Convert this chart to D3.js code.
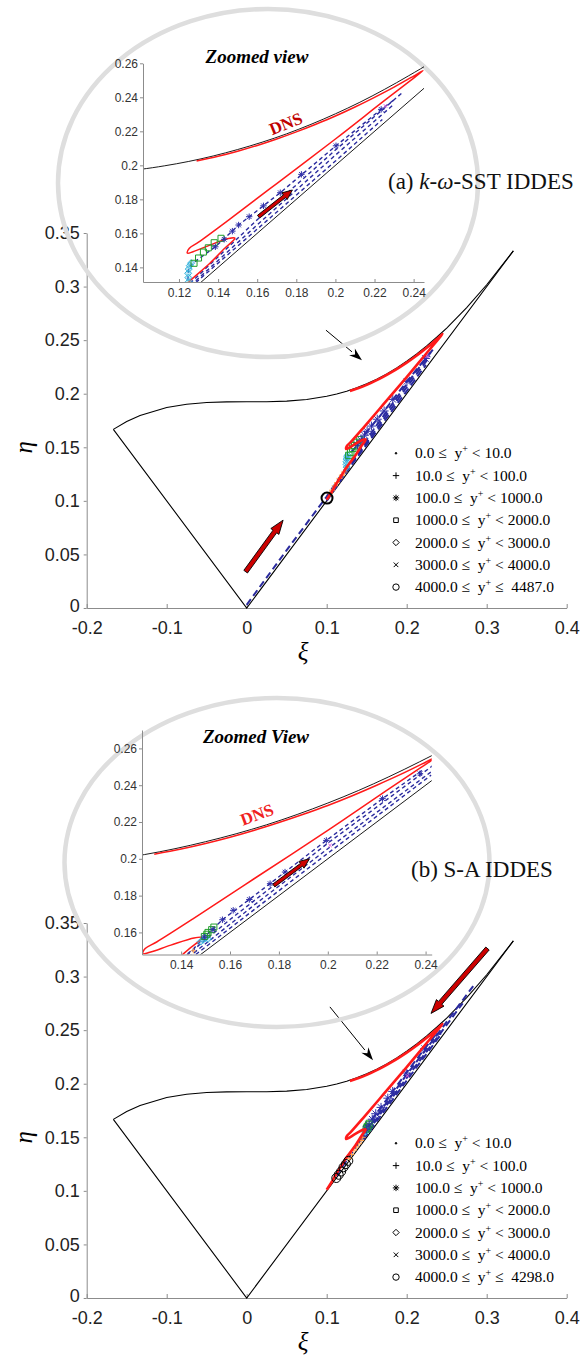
<!DOCTYPE html>
<html>
<head>
<meta charset="utf-8">
<script src="https://cdn.jsdelivr.net/npm/d3@7"></script>
<style>
  body { margin: 0; background: #fff; }
  text { white-space: pre; }
</style>
</head>
<body>
<svg id="fig" width="586" height="1356"></svg>
<script>
// ---- shared data (xi, eta) ----
const bndUpper = [[-0.1667,0.1667],[-0.15,0.1740],[-0.1333,0.1797],[-0.1,0.1872],[-0.075,0.1902],[-0.05,0.1918],
  [-0.025,0.1924],[0,0.1925],[0.025,0.1925],[0.05,0.1931],[0.075,0.1946],[0.1,0.1976],[0.1125,0.1997],[0.125,0.2023],
  [0.1375,0.2055],[0.15,0.2093],[0.1625,0.2136],[0.175,0.2185],[0.1875,0.2241],[0.2,0.2303],[0.2125,0.2371],
  [0.225,0.2446],[0.2375,0.2527],[0.25,0.2613],[0.275,0.2804],[0.3,0.3017],[0.3333,0.3333]];
const bndLower = [[-0.1667,0.1667],[0,0],[0.3333,0.3333]];

const dnsPath = [[0.100,0.101],[0.106,0.108],[0.112,0.116],[0.118,0.123],[0.122,0.128],[0.126,0.1325],
  [0.1358,0.1424],[0.1434,0.1512],[0.1476,0.1556],[0.1486,0.1572],[0.1453,0.1570],[0.1358,0.1531],
  [0.1272,0.1492],[0.1243,0.1484],[0.1253,0.1512],[0.1300,0.1548],[0.1450,0.1675],[0.1700,0.1893],
  [0.2000,0.2155],[0.2250,0.2380],[0.2380,0.2495],[0.2448,0.2557],[0.2400,0.2525],[0.2300,0.2460],
  [0.2200,0.2400],[0.2100,0.2343],[0.2000,0.2290],[0.1900,0.2242],[0.1800,0.2197],[0.1700,0.2155],
  [0.1600,0.2117],[0.1500,0.2083],[0.1400,0.2053],[0.1290,0.2025]];

const mainXTicks = [-0.2,-0.1,0,0.1,0.2,0.3,0.4];
const mainYTicks = [0,0.05,0.1,0.15,0.2,0.25,0.3,0.35];
const legendLo = ["0.0","10.0","100.0","1000.0","2000.0","3000.0","4000.0"];
const legendHiSST = ["10.0","100.0","1000.0","2000.0","3000.0","4000.0","4487.0"];
const legendHiSA = ["10.0","100.0","1000.0","2000.0","3000.0","4000.0","4298.0"];
const legendMarks = ["dot","plus","star","square","diamond","x","circle"];

// ---- (a) k-omega-SST IDDES ----
const sstLineA = [[0.000,0.003],[0.050,0.054],[0.100,0.104],[0.118,0.124],[0.1245,0.1315],[0.1250,0.1400],
  [0.1277,0.1430],[0.1386,0.1521],[0.1505,0.1649],[0.1718,0.1839],[0.2003,0.2115],[0.2234,0.2329],[0.2300,0.2385]];
const sstLineB = [[0.100,0.102],[0.126,0.131],[0.160,0.168],[0.200,0.209],[0.234,0.2425]];
const sstLineC = [[0.100,0.101],[0.128,0.1315],[0.160,0.165],[0.200,0.206],[0.229,0.235]];
const sstLineD = [[0.100,0.100],[0.130,0.1325],[0.160,0.1625],[0.200,0.2025],[0.224,0.227]];
const sstStars = [[0.1386,0.1521],[0.1431,0.1565],[0.1473,0.1613],[0.1505,0.1649],[0.1559,0.1698],
  [0.1632,0.1762],[0.1718,0.1839],[0.1826,0.1947],[0.2003,0.2115],[0.2234,0.2329]];
const sstSquares = [[0.1277,0.1424],[0.1300,0.1455],[0.1325,0.1490],[0.1350,0.1515],[0.1380,0.1545],[0.1415,0.1571]];
const sstDiamonds = [[0.1250,0.1315],[0.1248,0.1340],[0.1247,0.1365],[0.1250,0.1390],[0.1255,0.1410],[0.1262,0.1425]];
const sstPlus = [[0.104,0.107],[0.107,0.110],[0.110,0.114],[0.113,0.117],[0.116,0.121],[0.119,0.124],
  [0.122,0.127],[0.125,0.131]];
const sstCross = [[0.2256,0.2349]];
const sstCircles = [[0.1004,0.1026]];
const sstInsetXTicks = [0.12,0.14,0.16,0.18,0.2,0.22,0.24];
const sstInsetYTicks = [0.14,0.16,0.18,0.2,0.22,0.24,0.26];
const sstMainArrow = [[-0.0013,0.0339],[0.0455,0.082]];
const sstInsetArrow = [[0.1607,0.1698],[0.1780,0.1855]];
const sstPointer = [[0.0991,0.2593],[0.1441,0.2313]];

// ---- (b) S-A IDDES ----
const saLineA = [[0.112,0.114],[0.130,0.134],[0.1450,0.1510],[0.1495,0.1575],[0.1569,0.1669],[0.1679,0.1779],
  [0.1825,0.1928],[0.1994,0.2100],[0.2224,0.2327],[0.2385,0.2480]];
const saLineB = [[0.140,0.145],[0.160,0.167],[0.200,0.2085],[0.2423,0.2500],[0.2600,0.2680],[0.2850,0.2930]];
const saLineC = [[0.143,0.1465],[0.170,0.175],[0.200,0.2055],[0.2423,0.2473],[0.2700,0.2750]];
const saLineD = [[0.146,0.1480],[0.170,0.1725],[0.200,0.2030],[0.2423,0.2455]];
const saStars = [[0.1495,0.1575],[0.1530,0.1615],[0.1569,0.1669],[0.1613,0.1720],[0.1679,0.1779],
  [0.1764,0.1865],[0.1825,0.1928],[0.1994,0.2100],[0.2224,0.2327],[0.2377,0.2462]];
const saSquares = [[0.1495,0.1578],[0.1505,0.1590],[0.1510,0.1600],[0.1525,0.1615],[0.1534,0.1629]];
const saDiamonds = [[0.1480,0.1550],[0.1490,0.1560],[0.1500,0.1570],[0.1510,0.1565]];
const saPlus = [[0.128,0.130],[0.131,0.134],[0.134,0.138],[0.137,0.141],[0.140,0.144],[0.143,0.147],[0.145,0.150]];
const saCross = [[0.2009,0.2073]];
const saCircles = [[0.112,0.112],[0.115,0.115],[0.118,0.118],[0.121,0.122],[0.124,0.125],[0.127,0.128]];
const saInsetXTicks = [0.14,0.16,0.18,0.2,0.22,0.24];
const saInsetYTicks = [0.16,0.18,0.2,0.22,0.24,0.26];
const saMainArrow = [[0.3010,0.3262],[0.2304,0.2656]];
const saInsetArrow = [[0.1779,0.1855],[0.1925,0.2000]];
const saPointer = [[0.1040,0.2717],[0.1579,0.2220]];

const svg = d3.select("#fig");
const sans = "'Liberation Sans', Arial, Helvetica, sans-serif";
const serif = "'Liberation Serif', 'Times New Roman', serif";
const blue = "#2a2a9e";
const fmt = d => String(+d.toFixed(2));

function markPath(type, s) {
  const k = s * 0.72;
  if (type == "plus") return `M${-s},0H${s}M0,${-s}V${s}`;
  if (type == "x") return `M${-k},${-k}L${k},${k}M${-k},${k}L${k},${-k}`;
  if (type == "star") return markPath("plus", s) + markPath("x", s);
  if (type == "square") return `M${-k},${-k}H${k}V${k}H${-k}Z`;
  if (type == "diamond") return `M0,${-s}L${s},0L0,${s}L${-s},0Z`;
  if (type == "circle" || type == "dot")
    return `M${s},0A${s},${s} 0 1,1 ${-s},0A${s},${s} 0 1,1 ${s},0Z`;
}

function styleAxis(g, size, color) {
  g.attr("font-family", sans).attr("font-size", size);
  g.select(".domain").attr("stroke", "#8c8c8c");
  g.selectAll(".tick line").attr("stroke", "#8c8c8c");
  g.selectAll(".tick text").attr("fill", color);
}

function fatArrow(g, p0, p1, sw, hw, hl) {
  const dx = p1[0]-p0[0], dy = p1[1]-p0[1], L = Math.hypot(dx, dy);
  const ux = dx/L, uy = dy/L, nx = -uy, ny = ux;
  const bx = p1[0]-ux*hl, by = p1[1]-uy*hl;
  const pts = [[p0[0]+nx*sw/2, p0[1]+ny*sw/2], [bx+nx*sw/2, by+ny*sw/2], [bx+nx*hw/2, by+ny*hw/2], p1,
    [bx-nx*hw/2, by-ny*hw/2], [bx-nx*sw/2, by-ny*sw/2], [p0[0]-nx*sw/2, p0[1]-ny*sw/2]];
  g.append("path").attr("d", "M" + pts.join("L") + "Z")
    .attr("fill", "#cc0000").attr("stroke", "#000").attr("stroke-width", 0.9);
}

function thinArrow(g, p0, p1) {
  const dx = p1[0]-p0[0], dy = p1[1]-p0[1], L = Math.hypot(dx, dy);
  const ux = dx/L, uy = dy/L, nx = -uy, ny = ux, hl = 13, hw = 9;
  const bx = p1[0]-ux*hl, by = p1[1]-uy*hl;
  g.append("line").attr("x1", p0[0]).attr("y1", p0[1]).attr("x2", bx).attr("y2", by)
    .attr("stroke", "#000").attr("stroke-width", 1);
  g.append("path").attr("d", `M${p1}L${bx+nx*hw/2},${by+ny*hw/2}L${bx+ux*4},${by+uy*4}L${bx-nx*hw/2},${by-ny*hw/2}Z`)
    .attr("fill", "#000");
}

const markStyle = {
  star:    {stroke: "#2e2ea8", fill: "none"},
  square:  {stroke: "#1f9e2a", fill: "none"},
  diamond: {stroke: "#35b4dc", fill: "rgba(80,190,225,0.35)"},
  plus:    {stroke: "#ffa24d", fill: "none"},
  x:       {stroke: "#e060e0", fill: "none"},
  circle:  {stroke: "#000", fill: "none"}
};

function drawMarks(g, x, y, marks, sizes, circleW) {
  Object.keys(marks).forEach(type => {
    g.append("g").selectAll("path").data(marks[type]).join("path")
      .attr("transform", d => `translate(${x(d[0])},${y(d[1])})`)
      .attr("d", markPath(type, sizes[type]))
      .attr("stroke", markStyle[type].stroke)
      .attr("fill", markStyle[type].fill)
      .attr("stroke-width", type == "circle" ? circleW : 1);
  });
}

const panels = [
  {
    y0: 608, y35: 233,
    inset: {xd: [0.1016, 0.2453], yd: [0.1314, 0.26], xr: [143, 424], yr: [282, 63.3],
            xt: sstInsetXTicks, yt: sstInsetYTicks},
    ring: {cx: 268, cy: 183, rx: 210, ry: 174},
    lines: [sstLineA, sstLineB, sstLineC, sstLineD],
    marks: {plus: sstPlus, diamond: sstDiamonds, square: sstSquares, star: sstStars, x: sstCross, circle: sstCircles},
    circleR: 5.5, circleW: 2,
    mainArrow: sstMainArrow, insetArrow: sstInsetArrow, pointer: sstPointer,
    title: "Zoomed view", titlePos: [257, 63], dns: {pos: [288, 129], rot: -22, color: "#c00000"},
    legendHi: legendHiSST, legendY: 453.3,
    label: [["(a) ", "normal"], ["k", "italic"], ["-", "normal"], ["ω", "italic"], ["-SST IDDES", "normal"]],
    labelPos: [388, 189]
  },
  {
    y0: 1298, y35: 923,
    inset: {xd: [0.124, 0.2425], yd: [0.148, 0.27], xr: [142, 431.7], yr: [954.5, 730],
            xt: saInsetXTicks, yt: saInsetYTicks},
    ring: {cx: 277, cy: 862.5, rx: 212.5, ry: 164.5},
    lines: [saLineA, saLineB, saLineC, saLineD],
    marks: {plus: saPlus, diamond: saDiamonds, square: saSquares, star: saStars, x: saCross, circle: saCircles},
    circleR: 4.5, circleW: 1,
    mainArrow: saMainArrow, insetArrow: saInsetArrow, pointer: saPointer,
    title: "Zoomed View", titlePos: [256, 743], dns: {pos: [259, 820], rot: -20, color: "#f02020"},
    legendHi: legendHiSA, legendY: 1143.3,
    label: [["(b) S-A IDDES", "normal"]],
    labelPos: [411, 877]
  }
];

panels.forEach((p, pi) => {
  const g = svg.append("g");
  const x = d3.scaleLinear().domain([-0.2, 0.4]).range([86.7, 566.7]);
  const y = d3.scaleLinear().domain([0, 0.35]).range([p.y0, p.y35]);
  const line = d3.line().x(d => x(d[0])).y(d => y(d[1]));
  const smooth = d3.line().x(d => x(d[0])).y(d => y(d[1])).curve(d3.curveCatmullRom.alpha(0.5));

  // axes
  const ax = g.append("g").attr("transform", `translate(0,${p.y0})`)
    .call(d3.axisBottom(x).tickValues(mainXTicks).tickFormat(fmt).tickSizeInner(-4).tickSizeOuter(0).tickPadding(13));
  styleAxis(ax, 18, "#222");
  const ay = g.append("g").attr("transform", `translate(86.7,0)`)
    .call(d3.axisLeft(y).tickValues(mainYTicks).tickFormat(fmt).tickSizeInner(3).tickSizeOuter(0).tickPadding(4));
  styleAxis(ay, 18, "#222");
  ay.selectAll(".tick text").filter(d => d == 0).attr("dy", "0.2em");
  g.append("text").attr("x", 303).attr("y", p.y0 + 52).attr("text-anchor", "middle")
    .attr("font-family", serif).attr("font-style", "italic").attr("font-size", 25).text("ξ");
  g.append("text").attr("transform", `translate(24,${y(0.15)}) rotate(-90)`).attr("text-anchor", "middle")
    .attr("dy", "0.3em").attr("font-family", serif).attr("font-style", "italic").attr("font-size", 25).text("η");

  // triangle boundary
  g.append("path").attr("d", line(bndUpper)).attr("fill", "none").attr("stroke", "#000").attr("stroke-width", 1.1);
  g.append("path").attr("d", line(bndLower)).attr("fill", "none").attr("stroke", "#000").attr("stroke-width", 1.1);

  // model lines
  p.lines.forEach(l => g.append("path").attr("d", line(l)).attr("fill", "none")
    .attr("stroke", blue).attr("stroke-width", 2).attr("stroke-dasharray", "7,4"));
  const mk = Object.assign({}, p.marks); delete mk.circle;
  drawMarks(g, x, y, mk, {plus: 3, diamond: 3.5, square: 4.5, star: 4.5, x: 2.5}, 1);
  g.append("path").attr("d", smooth(dnsPath)).attr("fill", "none").attr("stroke", "#ff1a1a")
    .attr("stroke-width", 2.6).attr("stroke-linejoin", "round");
  drawMarks(g, x, y, {circle: p.marks.circle}, {circle: p.circleR}, p.circleW);

  // arrows
  fatArrow(g, [x(p.mainArrow[0][0]), y(p.mainArrow[0][1])], [x(p.mainArrow[1][0]), y(p.mainArrow[1][1])], 4.5, 10, 14);
  thinArrow(g, [x(p.pointer[0][0]), y(p.pointer[0][1])], [x(p.pointer[1][0]), y(p.pointer[1][1])]);

  // legend
  const lg = g.append("g").attr("font-family", serif).attr("font-size", 15.5);
  legendMarks.forEach((m, i) => {
    const ly = p.legendY + i * 22.3;
    lg.append("path").attr("transform", `translate(396,${ly})`)
      .attr("d", markPath(m, m == "dot" ? 0.8 : 3.2))
      .attr("fill", m == "dot" ? "#000" : "none").attr("stroke", "#000").attr("stroke-width", 1);
    const t = lg.append("text").attr("x", 415).attr("y", ly + 5);
    t.append("tspan").text(legendLo[i] + " ≤  y");
    t.append("tspan").attr("dy", -6).attr("font-size", 10).text("+");
    t.append("tspan").attr("dy", 6).text((i == 6 ? " ≤  " : " < ") + p.legendHi[i]);
  });

  // gray ring
  g.append("ellipse").attr("cx", p.ring.cx).attr("cy", p.ring.cy).attr("rx", p.ring.rx).attr("ry", p.ring.ry)
    .attr("fill", "none").attr("stroke", "#dedede").attr("stroke-width", 4.5);

  // inset
  const q = p.inset;
  const ix = d3.scaleLinear().domain(q.xd).range(q.xr);
  const iy = d3.scaleLinear().domain(q.yd).range(q.yr);
  const iline = d3.line().x(d => ix(d[0])).y(d => iy(d[1]));
  const ismooth = d3.line().x(d => ix(d[0])).y(d => iy(d[1])).curve(d3.curveCatmullRom.alpha(0.5));
  const clipId = "clip" + pi;
  svg.append("clipPath").attr("id", clipId).append("rect")
    .attr("x", q.xr[0]).attr("y", q.yr[1]).attr("width", q.xr[1] - q.xr[0]).attr("height", q.yr[0] - q.yr[1]);
  const ig = g.append("g").attr("clip-path", `url(#${clipId})`);
  ig.append("path").attr("d", ismooth(bndUpper)).attr("fill", "none").attr("stroke", "#000").attr("stroke-width", 0.9);
  ig.append("path").attr("d", iline(bndLower)).attr("fill", "none").attr("stroke", "#000").attr("stroke-width", 0.9);
  p.lines.forEach(l => ig.append("path").attr("d", iline(l)).attr("fill", "none")
    .attr("stroke", blue).attr("stroke-width", 1.4).attr("stroke-dasharray", "4,3"));
  ig.append("path").attr("d", ismooth(dnsPath)).attr("fill", "none").attr("stroke", "#ff1a1a")
    .attr("stroke-width", 1.5).attr("stroke-linejoin", "round");
  const imk = Object.assign({}, p.marks); delete imk.circle;
  drawMarks(ig, ix, iy, imk, {plus: 2.5, diamond: 3.5, square: 4.2, star: 3.2, x: 2.5}, 1);
  fatArrow(ig, [ix(p.insetArrow[0][0]), iy(p.insetArrow[0][1])], [ix(p.insetArrow[1][0]), iy(p.insetArrow[1][1])], 3.5, 8.5, 10);

  const iax = g.append("g").attr("transform", `translate(0,${q.yr[0]})`)
    .call(d3.axisBottom(ix).tickValues(q.xt).tickFormat(fmt).tickSizeInner(-3).tickSizeOuter(0).tickPadding(6));
  styleAxis(iax, 12, "#333");
  const iay = g.append("g").attr("transform", `translate(${q.xr[0]},0)`)
    .call(d3.axisLeft(iy).tickValues(q.yt).tickFormat(fmt).tickSizeInner(3).tickSizeOuter(0).tickPadding(2));
  styleAxis(iay, 12, "#333");

  g.append("text").attr("x", p.titlePos[0]).attr("y", p.titlePos[1]).attr("text-anchor", "middle")
    .attr("font-family", serif).attr("font-weight", "bold").attr("font-style", "italic").attr("font-size", 19)
    .text(p.title);
  g.append("text").attr("transform", `translate(${p.dns.pos[0]},${p.dns.pos[1]}) rotate(${p.dns.rot})`)
    .attr("text-anchor", "middle").attr("font-family", serif).attr("font-weight", "bold")
    .attr("font-size", 17).attr("fill", p.dns.color).text("DNS");

  const lt = g.append("text").attr("x", p.labelPos[0]).attr("y", p.labelPos[1])
    .attr("font-family", serif).attr("font-size", 23).attr("fill", "#111");
  p.label.forEach(s => lt.append("tspan").attr("font-style", s[1]).text(s[0]));
});
</script>
</body>
</html>
